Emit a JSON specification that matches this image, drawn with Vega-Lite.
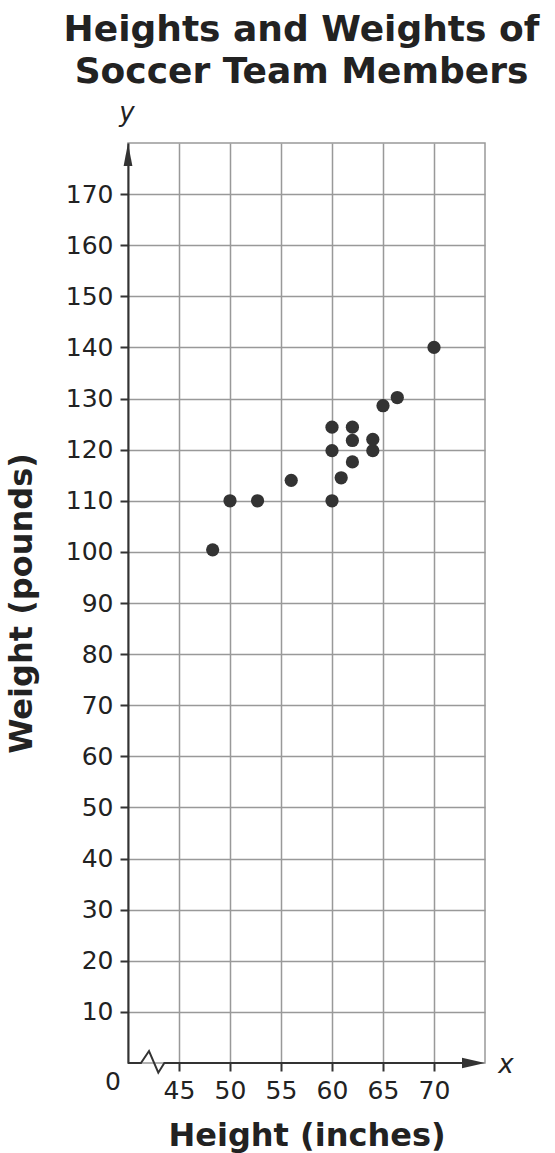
{
  "$schema": "https://vega.github.io/schema/vega-lite/v6.json",
  "width": 357,
  "height": 920,
  "autosize": {"type": "none"},
  "padding": {"left": 128, "top": 143, "right": 70, "bottom": 90},
  "background": "white",
  "config": {
    "view": {"stroke": "#999999", "strokeWidth": 1.5},
    "font": "DejaVu Sans"
  },
  "title": {
    "text": ["Heights and Weights of", "Soccer Team Members"],
    "font": "DejaVu Sans",
    "fontSize": 36,
    "fontWeight": "bold",
    "color": "#222222",
    "anchor": "middle",
    "offset": 9,
    "lineHeight": 42,
    "dx": -5
  },
  "datasets": {
    "players": [
      {"height": 48.3, "weight": 100.4},
      {"height": 50, "weight": 110},
      {"height": 52.7, "weight": 110},
      {"height": 56, "weight": 114},
      {"height": 60, "weight": 110},
      {"height": 60, "weight": 119.8},
      {"height": 60, "weight": 124.4},
      {"height": 60.9, "weight": 114.5},
      {"height": 62, "weight": 117.6},
      {"height": 62, "weight": 121.8},
      {"height": 62, "weight": 124.4},
      {"height": 64, "weight": 119.8},
      {"height": 64, "weight": 122},
      {"height": 65, "weight": 128.6},
      {"height": 66.4, "weight": 130.2},
      {"height": 70, "weight": 140}
    ],
    "xAxisLine": [
      {"order": 1, "height": 40, "weight": 0},
      {"order": 2, "height": 41.27, "weight": 0},
      {"order": 3, "height": 42.06, "weight": 2.35},
      {"order": 4, "height": 42.97, "weight": -1.9},
      {"order": 5, "height": 43.56, "weight": 0},
      {"order": 6, "height": 74, "weight": 0}
    ]
  },
  "encoding": {
    "x": {
      "field": "height",
      "type": "quantitative",
      "scale": {"domain": [40, 75], "nice": false, "zero": false},
      "axis": {
        "title": "Height (inches)",
        "values": [45, 50, 55, 60, 65, 70],
        "domain": false,
        "tickColor": "#333333",
        "tickWidth": 2,
        "tickSize": 8,
        "labelFont": "DejaVu Sans",
        "labelFontSize": 25,
        "labelColor": "#222222",
        "labelPadding": 7,
        "gridColor": "#999999",
        "gridWidth": 1.5,
        "gridOpacity": 1,
        "titleFont": "DejaVu Sans",
        "titleFontSize": 32,
        "titleFontWeight": "bold",
        "titleColor": "#222222",
        "titlePadding": 17
      }
    },
    "y": {
      "field": "weight",
      "type": "quantitative",
      "scale": {"domain": [0, 180], "nice": false},
      "axis": {
        "title": "Weight (pounds)",
        "values": [10, 20, 30, 40, 50, 60, 70, 80, 90, 100, 110, 120, 130, 140, 150, 160, 170],
        "domainColor": "#333333",
        "domainWidth": 2,
        "tickColor": "#333333",
        "tickWidth": 2,
        "tickSize": 8,
        "labelFont": "DejaVu Sans",
        "labelFontSize": 25,
        "labelColor": "#222222",
        "labelPadding": 7,
        "gridColor": "#999999",
        "gridWidth": 1.5,
        "gridOpacity": 1,
        "titleFont": "DejaVu Sans",
        "titleFontSize": 32,
        "titleFontWeight": "bold",
        "titleColor": "#222222",
        "titlePadding": 27
      }
    }
  },
  "layer": [
    {
      "data": {"name": "xAxisLine"},
      "mark": {"type": "line", "color": "#333333", "strokeWidth": 2, "clip": false, "strokeJoin": "miter"},
      "encoding": {
        "order": {"field": "order", "type": "quantitative"}
      }
    },
    {
      "data": {"name": "players"},
      "mark": {"type": "circle", "size": 175, "color": "#333333", "opacity": 1}
    },
    {
      "data": {"values": [{"height": 75, "weight": 0}]},
      "mark": {"type": "point", "shape": "M-2,-0.46L0,0L-2,0.46Z", "size": 529, "filled": true, "color": "#333333", "opacity": 1, "clip": false}
    },
    {
      "data": {"values": [{"height": 40, "weight": 180}]},
      "mark": {"type": "point", "shape": "M-0.38,2L0,0L0.38,2Z", "size": 529, "filled": true, "color": "#333333", "opacity": 1, "clip": false}
    },
    {
      "data": {"values": [{"height": 40, "weight": 0, "label": "0"}]},
      "mark": {"type": "text", "font": "DejaVu Sans", "fontSize": 25, "color": "#222222", "align": "center", "baseline": "middle", "dx": -15, "dy": 19, "clip": false},
      "encoding": {"text": {"field": "label"}}
    },
    {
      "data": {"values": [{"height": 40, "weight": 180, "label": "y"}]},
      "mark": {"type": "text", "font": "DejaVu Sans", "fontSize": 26, "fontStyle": "italic", "color": "#222222", "align": "center", "baseline": "middle", "dx": -1, "dy": -30, "clip": false},
      "encoding": {"text": {"field": "label"}}
    },
    {
      "data": {"values": [{"height": 75, "weight": 0, "label": "x"}]},
      "mark": {"type": "text", "font": "DejaVu Sans", "fontSize": 26, "fontStyle": "italic", "color": "#222222", "align": "center", "baseline": "middle", "dx": 21, "dy": 2, "clip": false},
      "encoding": {"text": {"field": "label"}}
    }
  ]
}
